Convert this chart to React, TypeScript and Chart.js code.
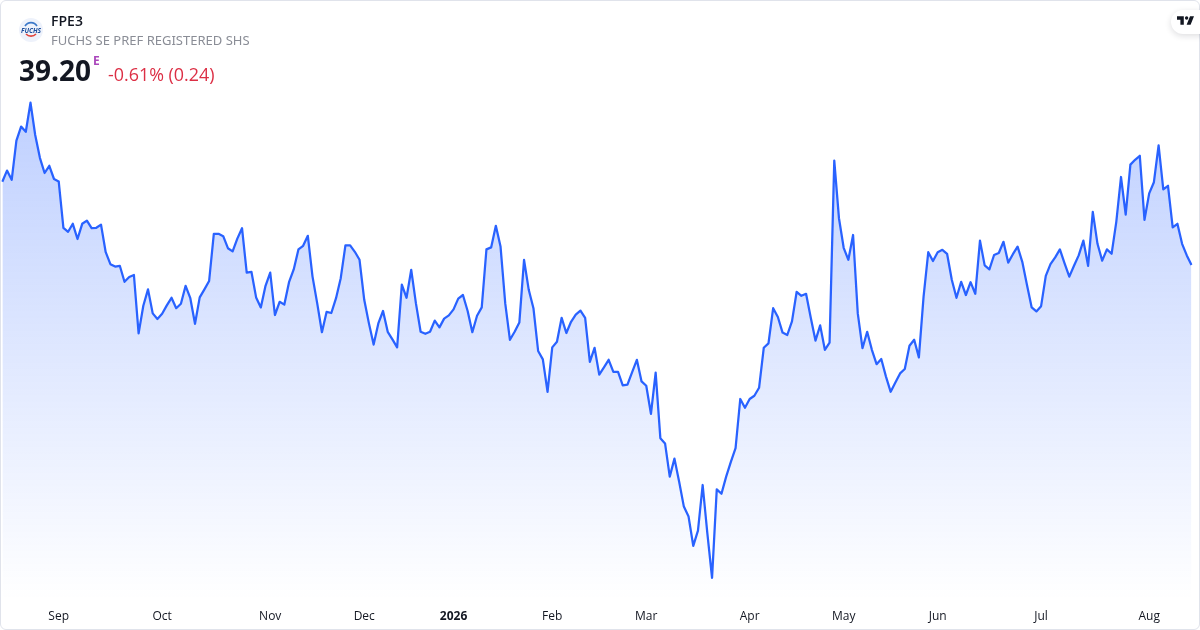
import React, { useEffect, useRef } from "react";
import { Chart, registerables } from "chart.js";

Chart.register(...registerables);

const prices: number[] = [
  41.28, 41.56, 41.33, 42.31, 42.66, 42.53, 43.26, 42.45, 41.88, 41.50, 41.68, 41.35, 41.29, 40.13, 40.03, 40.23,
  39.85, 40.23, 40.31, 40.12, 40.13, 40.21, 39.52, 39.22, 39.16, 39.18, 38.78, 38.90, 38.95, 37.49, 38.18, 38.59,
  37.99, 37.85, 37.98, 38.19, 38.38, 38.12, 38.23, 38.68, 38.37, 37.73, 38.39, 38.59, 38.80, 39.98, 39.98, 39.92,
  39.62, 39.54, 39.86, 40.12, 39.01, 39.03, 38.39, 38.14, 38.68, 39.01, 37.95, 38.28, 38.21, 38.77, 39.09, 39.59,
  39.68, 39.93, 38.91, 38.24, 37.52, 38.03, 38.00, 38.37, 38.87, 39.69, 39.69, 39.53, 39.33, 38.33, 37.74, 37.21,
  37.74, 38.05, 37.53, 37.34, 37.14, 38.71, 38.38, 39.08, 38.24, 37.53, 37.48, 37.53, 37.81, 37.64, 37.86, 37.94,
  38.09, 38.36, 38.45, 38.05, 37.52, 37.93, 38.14, 39.59, 39.64, 40.18, 39.66, 38.24, 37.33, 37.53, 37.76, 39.33,
  38.58, 38.12, 37.05, 36.84, 36.03, 37.14, 37.28, 37.88, 37.50, 37.78, 37.96, 38.06, 37.88, 36.78, 37.13, 36.46,
  36.64, 36.83, 36.53, 36.53, 36.19, 36.21, 36.52, 36.83, 36.29, 36.18, 35.48, 36.51, 34.87, 34.74, 33.91, 34.36,
  33.78, 33.16, 32.91, 32.18, 32.56, 33.70, 32.49, 31.38, 33.59, 33.48, 33.91, 34.28, 34.62, 35.85, 35.63, 35.85,
  35.93, 36.13, 37.13, 37.24, 38.12, 37.90, 37.51, 37.45, 37.79, 38.53, 38.43, 38.48, 37.88, 37.31, 37.69, 37.08,
  37.26, 41.81, 40.37, 39.63, 39.33, 39.95, 37.99, 37.12, 37.53, 37.08, 36.72, 36.85, 36.41, 36.03, 36.26, 36.49,
  36.60, 37.18, 37.33, 36.89, 38.41, 39.52, 39.30, 39.52, 39.58, 39.48, 38.83, 38.38, 38.78, 38.45, 38.77, 38.48,
  39.81, 39.19, 39.09, 39.45, 39.50, 39.78, 39.26, 39.47, 39.66, 39.28, 38.70, 38.14, 38.04, 38.17, 38.93, 39.22,
  39.39, 39.59, 39.24, 38.91, 39.18, 39.44, 39.81, 39.18, 40.53, 39.73, 39.31, 39.59, 39.48, 40.28, 41.40, 40.46,
  41.71, 41.83, 41.93, 40.33, 40.99, 41.27, 42.19, 41.09, 41.18, 40.14, 40.23, 39.73, 39.44, 39.20,
];

const tickIndices: number[] = [12, 34, 57, 77, 96, 117, 137, 159, 179, 199, 221, 244];
const tickLabels: string[] = ["Sep", "Oct", "Nov", "Dec", "2026", "Feb", "Mar", "Apr", "May", "Jun", "Jul", "Aug"];
const boldLabels: string[] = ["2026"];

const categories: string[] = prices.map((_, i) => {
  const k = tickIndices.indexOf(i);
  return k >= 0 ? tickLabels[k] : "";
});

const FONT = '"Open Sans", sans-serif';
const NOTO = '"Noto Sans", sans-serif';

export default function App() {
  const ref = useRef<HTMLCanvasElement>(null);

  useEffect(() => {
    const canvas = ref.current;
    if (!canvas) return;
    const chart = new Chart(canvas, {
      type: "line",
      data: {
        labels: categories,
        datasets: [
          {
            data: prices,
            borderColor: "#2962FF",
            borderWidth: 2.25,
            borderJoinStyle: "round",
            pointRadius: 0,
            tension: 0,
            fill: "start",
            backgroundColor: (ctx: any) => {
              const area = ctx.chart.chartArea;
              if (!area) return "rgba(41,98,255,0.3)";
              const g = ctx.chart.ctx.createLinearGradient(0, 100, 0, area.bottom);
              g.addColorStop(0, "rgba(41,98,255,0.3)");
              g.addColorStop(1, "rgba(41,98,255,0)");
              return g;
            },
          },
        ],
      },
      options: {
        responsive: false,
        animation: false,
        layout: { padding: { left: 2.3, right: 8.5, top: 0, bottom: 0 } },
        plugins: { legend: { display: false }, tooltip: { enabled: false } },
        scales: {
          y: { display: false, min: 30.825, max: 45.825 },
          x: {
            offset: false,
            afterFit: (scale: any) => {
              scale.height = 30;
              scale.paddingLeft = 0;
              scale.paddingRight = 0;
            },
            grid: { display: false, drawTicks: false },
            border: { display: false },
            ticks: {
              autoSkip: false,
              maxRotation: 0,
              minRotation: 0,
              padding: 9,
              color: "#131722",
              font: (ctx: any) => ({
                family: FONT,
                size: 12,
                weight: boldLabels.includes(ctx.tick?.label) ? "bold" : "normal",
              }),
            },
          },
        },
      },
    });
    return () => chart.destroy();
  }, []);

  return (
    <div
      style={{
        position: "absolute",
        left: 0,
        top: 0,
        width: 1200,
        height: 630,
        background: "#fff",
        overflow: "hidden",
        fontFamily: FONT,
      }}
    >
      <canvas ref={ref} width={1200} height={630} style={{ display: "block" }} />
      <div
        style={{
          position: "absolute",
          inset: 0,
          boxSizing: "border-box",
          border: "1px solid #e0e3eb",
          borderRadius: 6,
          pointerEvents: "none",
        }}
      />
      <svg width="24" height="24" viewBox="0 0 24 24" style={{ position: "absolute", left: 19, top: 18 }}>
        <circle cx="12" cy="12" r="12" fill="#eef2fb" />
        <path d="M6 8 A7 7 0 0 1 18 8" fill="none" stroke="#3b78c9" strokeWidth="1.6" />
        <path d="M7 16 A7 7 0 0 0 17 16" fill="none" stroke="#e0433c" strokeWidth="1.6" />
        <text x="12" y="14.5" textAnchor="middle" fontSize="6.6" fontWeight="bold" fontStyle="italic" fill="#1d4f9e" fontFamily={FONT}>
          FUCHS
        </text>
      </svg>
      <div style={{ position: "absolute", left: 51, top: 12, fontSize: 14, lineHeight: "18px", fontWeight: 600, color: "#131722" }}>
        FPE3
      </div>
      <div style={{ position: "absolute", left: 51, top: 32, fontSize: 13, lineHeight: "17px", color: "#8a8d96", fontFamily: NOTO }}>
        FUCHS SE PREF REGISTERED SHS
      </div>
      <div style={{ position: "absolute", left: 19, top: 51, fontSize: 28, lineHeight: "38px", fontWeight: 700, color: "#131722" }}>
        39.20
      </div>
      <div style={{ position: "absolute", left: 93, top: 54, fontSize: 12, lineHeight: "14px", fontWeight: 700, color: "#ab47bc" }}>
        E
      </div>
      <div style={{ position: "absolute", left: 108, top: 62, fontSize: 17.9, lineHeight: "25px", color: "#dc2f45" }}>
        -0.61% (0.24)
      </div>
      <div
        style={{
          position: "absolute",
          left: 1171,
          top: 10,
          width: 40,
          height: 24,
          borderRadius: 12,
          background: "#fff",
          boxShadow: "0 2px 6px rgba(19,23,34,0.14)",
        }}
      />
      <svg width="17" height="9" viewBox="2 6 30 15" style={{ position: "absolute", left: 1177, top: 16 }}>
        <path d="M14 6H2v6h6v9h6V6Zm12 15h-7l6-15h7l-6 15Zm-7-9a3 3 0 1 0 0-6 3 3 0 0 0 0 6Z" fill="#131722" />
      </svg>
    </div>
  );
}
